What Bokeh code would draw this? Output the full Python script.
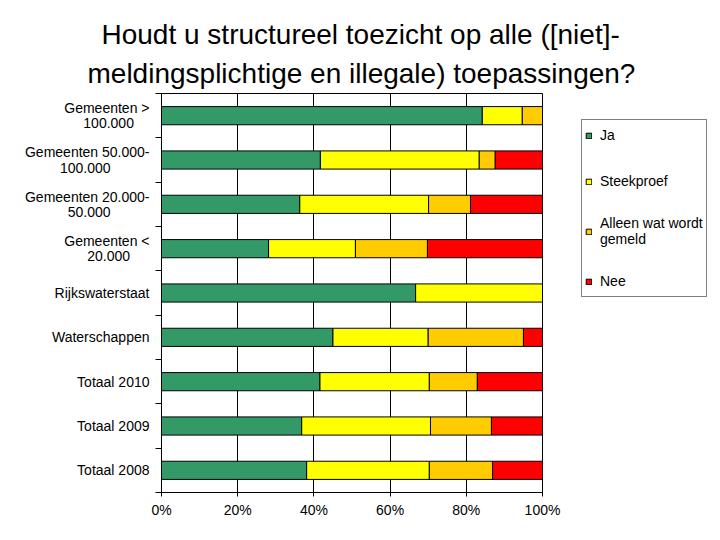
from bokeh.plotting import figure
from bokeh.models import Range1d, FixedTicker, PrintfTickFormatter, Legend, LegendItem, Title
from bokeh.embed import file_html
from bokeh.resources import INLINE

NB = "\u00a0"
title_lines = ["Houdt u structureel toezicht op alle ([niet]-",
               "meldingsplichtige en illegale) toepassingen?"]
categories = ["Gemeenten >\n100.000" + NB * 4, "Gemeenten 50.000-\n100.000" + NB * 10,
              "Gemeenten 20.000-\n50.000" + NB * 10, "Gemeenten <\n20.000" + NB * 5,
              "Rijkswaterstaat", "Waterschappen",
              "Totaal 2010", "Totaal 2009", "Totaal 2008"]
ja = [84.2, 41.7, 36.3, 28.1, 66.7, 45.0, 41.6, 36.8, 38.1]
steekproef = [10.5, 41.7, 33.8, 22.8, 33.3, 25.0, 28.7, 33.8, 32.2]
alleen = [5.3, 4.2, 11.0, 18.9, 0.0, 25.0, 12.6, 16.0, 16.6]
nee = [0.0, 12.4, 18.9, 30.2, 0.0, 5.0, 17.1, 13.4, 13.1]
series_names = ["Ja", "Steekproef", "Alleen wat wordt\ngemeld", "Nee"]
series_colors = ["#339966", "#FFFF00", "#FFCC00", "#FF0000"]
x_ticks = [0, 20, 40, 60, 80, 100]

FONT = "Liberation Sans"
n = len(categories)
ypos = [n - i - 0.5 for i in range(n)]

p = figure(width=720, height=540, output_backend="svg", toolbar_location=None,
           x_range=Range1d(0, 100), y_range=Range1d(0, n), title=None,
           min_border_left=161, min_border_right=178, min_border_top=93, min_border_bottom=48)
p.frame_width = 381
p.frame_height = 399

# two centred title lines (second line added first: it sits closest to the plot)
for txt, off, so in [(title_lines[1], -74, 9), (title_lines[0], -60, 4)]:
    t = Title(text=txt, align="left", offset=off, standoff=so, text_font=FONT,
              text_font_size="28px", text_font_style="normal", text_color="black")
    p.add_layout(t, "above")

p.background_fill_color = "white"
p.border_fill_color = "white"
p.outline_line_color = "black"
p.outline_line_width = 1

items = []
left = [0.0] * n
for vals, name, col in zip([ja, steekproef, alleen, nee], series_names, series_colors):
    right = [l + v for l, v in zip(left, vals)]
    r = p.hbar(y=ypos, left=left, right=right, height=0.41, fill_color=col,
               line_color="black", line_width=1)
    items.append(LegendItem(label=name, renderers=[r]))
    left = right

# axes
p.xaxis.ticker = FixedTicker(ticks=x_ticks, minor_ticks=[])
p.xaxis.formatter = PrintfTickFormatter(format="%d%%")
p.xaxis.major_tick_in = 0
p.xaxis.major_tick_out = 4
p.xaxis.major_label_standoff = 5
p.xaxis.axis_line_color = "black"
p.xaxis.major_tick_line_color = "black"
p.xaxis.major_label_text_font = FONT
p.xaxis.major_label_text_font_size = "14px"
p.xaxis.major_label_text_color = "black"

p.yaxis.ticker = FixedTicker(ticks=ypos, minor_ticks=list(range(n + 1)))
p.yaxis.major_label_overrides = {y: c for y, c in zip(ypos, categories)}
p.yaxis.major_tick_in = 0
p.yaxis.major_tick_out = 0
p.yaxis.minor_tick_in = 0
p.yaxis.minor_tick_out = 6
p.yaxis.minor_tick_line_color = "black"
p.yaxis.major_label_standoff = 6
p.yaxis.axis_line_color = "black"
p.yaxis.major_label_text_font = FONT
p.yaxis.major_label_text_font_size = "14px"
p.yaxis.major_label_text_color = "black"
p.yaxis.major_label_text_line_height = 0.95

p.xgrid.grid_line_color = "black"
p.xgrid.grid_line_width = 1
p.ygrid.grid_line_color = None

legend = Legend(items=items, location=(39, 195))
legend.border_line_color = "black"
legend.border_line_width = 1
legend.background_fill_color = "white"
legend.background_fill_alpha = 1
legend.label_text_font = FONT
legend.label_text_font_size = "14px"
legend.label_text_color = "black"
legend.label_text_line_height = 1.0
legend.glyph_width = 7
legend.glyph_height = 7
legend.label_standoff = 8
legend.label_height = 24
legend.spacing = 22
legend.padding = 3
legend.margin = 0
p.add_layout(legend, "right")

open("out.html", "w").write(file_html(p, INLINE))
